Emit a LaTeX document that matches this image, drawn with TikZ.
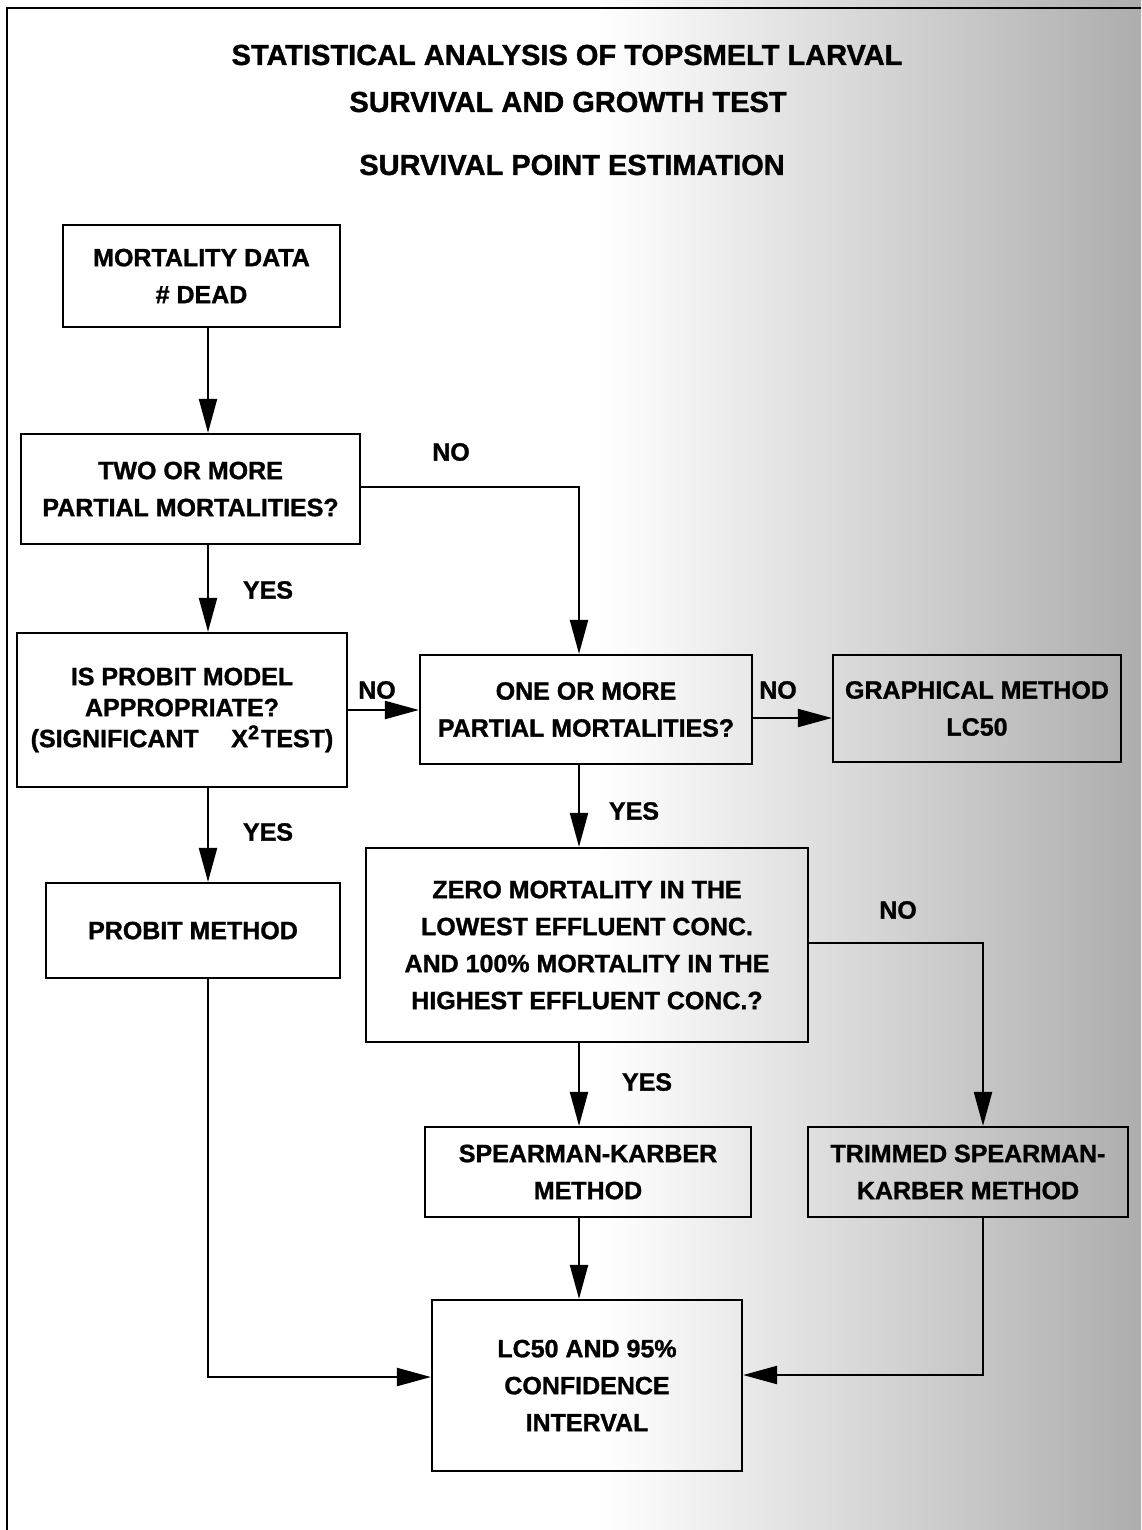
\documentclass[tikz,border=0pt]{standalone}
\usepackage{fontspec}
\setmainfont{Liberation Sans}[BoldFeatures={FakeBold=1.2}]
\usetikzlibrary{arrows.meta}
\begin{document}
\begin{tikzpicture}[x=1pt,y=-1pt,
  box/.style={draw, line width=2.2pt, align=center, inner sep=0pt,
    font=\bfseries\fontsize{25}{37}\selectfont},
  lbl/.style={font=\bfseries\fontsize{25}{30}\selectfont, inner sep=0pt},
  ttl/.style={font=\bfseries\fontsize{29}{34}\selectfont, inner sep=0pt},
  arr/.style={line width=2.2pt, -{Triangle[length=34pt,width=18pt]}},
  ln/.style={line width=2.2pt}]
\useasboundingbox (0,0) rectangle (1141,1530);
% scanned grey background
\shade[left color=white, right color=black!32] (600,0) rectangle (1141,1530);
\fill[white] (0,0) rectangle (600,1530);
% page border
\draw[line width=2pt] (7,1530) -- (7,8) -- (1141,8);

% titles
\node[ttl] (t1) at (567,55) {STATISTICAL ANALYSIS OF TOPSMELT LARVAL};
\node[ttl] (t2) at (568,102) {SURVIVAL AND GROWTH TEST};
\node[ttl] (t3) at (572,165) {SURVIVAL POINT ESTIMATION};

% boxes
\node[box, minimum width=277pt, minimum height=102pt] (mort) at (201.5,276) {MORTALITY DATA\\\# DEAD};
\node[box, minimum width=339pt, minimum height=110pt] (two) at (190.5,489) {TWO OR MORE\\PARTIAL MORTALITIES?};
\node[box, minimum width=330pt, minimum height=154pt,
  font=\bfseries\fontsize{25}{31}\selectfont] (probit) at (182,710)
  {IS PROBIT MODEL\\APPROPRIATE?\\(SIGNIFICANT\hspace{1.3em}X\raisebox{0.6ex}{\fontsize{20}{20}\selectfont 2}\hspace{0.08em}TEST)};
\node[box, minimum width=294pt, minimum height=95pt] (pm) at (193,930.5) {PROBIT METHOD};
\node[box, minimum width=332pt, minimum height=109pt] (one) at (586,709.5) {ONE OR MORE\\PARTIAL MORTALITIES?};
\node[box, minimum width=288pt, minimum height=107pt] (graph) at (977,708.5) {GRAPHICAL METHOD\\LC50};
\node[box, minimum width=442pt, minimum height=194pt] (zero) at (587,945)
  {ZERO MORTALITY IN THE\\LOWEST EFFLUENT CONC.\\AND 100\% MORTALITY IN THE\\HIGHEST EFFLUENT CONC.?};
\node[box, minimum width=326pt, minimum height=90pt] (sk) at (588,1172) {SPEARMAN-KARBER\\METHOD};
\node[box, minimum width=320pt, minimum height=90pt] (trim) at (968,1172) {TRIMMED SPEARMAN-\\KARBER METHOD};
\node[box, minimum width=310pt, minimum height=171pt] (lc) at (587,1385.5) {LC50 AND 95\%\\CONFIDENCE\\INTERVAL};

% column coordinates
\coordinate (xL) at (208,0);
\coordinate (xM) at (579,0);
\coordinate (n1) at (579,487);
\coordinate (y710) at (0,710);
\coordinate (y718) at (0,718);
\coordinate (n2) at (983,943);
\coordinate (b1) at (208,1377);
\coordinate (b2) at (983,1375);

% connectors
\draw[arr] (mort.south -| xL) -- (two.north -| xL);
\draw[arr] (two.south -| xL) -- (probit.north -| xL);
\draw[arr] (probit.south -| xL) -- (pm.north -| xL);
\draw[arr] (two.east |- n1) -- (n1) -- (one.north -| n1);
\draw[arr] (probit.east |- y710) -- (one.west |- y710);
\draw[arr] (one.east |- y718) -- (graph.west |- y718);
\draw[arr] (one.south -| xM) -- (zero.north -| xM);
\draw[arr] (zero.east |- n2) -- (n2) -- (trim.north -| n2);
\draw[arr] (zero.south -| xM) -- (sk.north -| xM);
\draw[arr] (sk.south -| xM) -- (lc.north -| xM);
\draw[arr] (pm.south -| b1) -- (b1) -- (lc.west |- b1);
\draw[arr] (trim.south -| b2) -- (b2) -- (lc.east |- b2);

% labels
\node[lbl] (no1) at (451,452) {NO};
\node[lbl] (yes1) at (268,590) {YES};
\node[lbl] (no2) at (377,690) {NO};
\node[lbl] (no3) at (778,690) {NO};
\node[lbl] (yes2) at (268,832) {YES};
\node[lbl] (yes3) at (634,811) {YES};
\node[lbl] (no4) at (898,910) {NO};
\node[lbl] (yes4) at (647,1082) {YES};
\end{tikzpicture}
\end{document}
